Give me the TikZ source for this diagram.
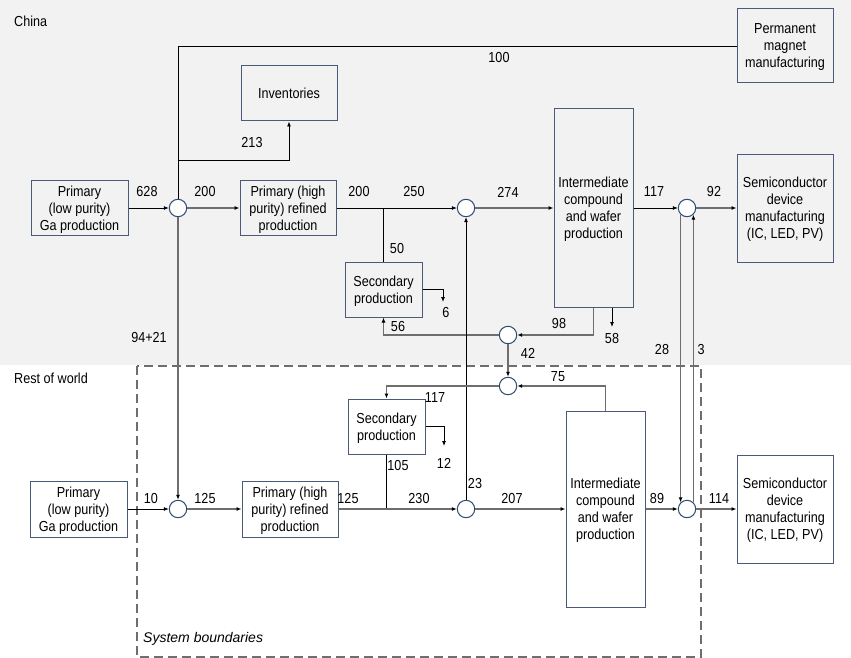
\documentclass[tikz,border=0pt]{standalone}
\usepackage{fontspec}
\setmainfont{Liberation Sans}[FakeStretch=0.87]
\newfontfamily\bndfont{Liberation Sans}
\usepackage{tikz}
\usetikzlibrary{arrows.meta}
\definecolor{bgchina}{HTML}{F2F2F2}
\definecolor{boxline}{HTML}{4A5A78}
\definecolor{jnline}{HTML}{2E4A72}
\definecolor{flowgray}{HTML}{6E6E6E}

\begin{document}
\begin{tikzpicture}[x=1pt, y=-1pt, font=\fontsize{14.5}{17}\selectfont,
  box/.style={draw=boxline, line width=1pt, align=center, inner sep=2pt, text depth=0pt},
  jn/.style={circle, draw=jnline, fill=white, line width=1pt, minimum size=17.4pt, inner sep=0pt},
  lbl/.style={inner sep=0pt},
  lnk/.style={black, line width=0.8pt},
  lng/.style={flowgray, line width=1.3pt},
  arrk/.style={lnk, -{Latex[length=5pt,width=4pt]}},
  arrg/.style={lng, -{Latex[length=5pt,width=4pt,color=black]}}]
  \fill[bgchina] (0,0) rectangle (851,365);
  \useasboundingbox (0,0) rectangle (851,658);
  \draw[flowgray, line width=1.2pt, dash pattern=on 9pt off 5pt] (137,366) rectangle (701,657);

  \node[lbl, anchor=west] (lchina) at (14,21) {China};
  \node[lbl, anchor=west] (lrow) at (14,378) {Rest of world};
  \node[lbl, anchor=west, font=\bndfont\itshape\fontsize{14}{17}\selectfont] (lbound) at (143,639) {System boundaries};

  % China
  \node[box, minimum width=97pt, minimum height=55pt] (cnlow) at (79.5,208) {Primary\\(low purity)\\Ga production};
  \node[box, minimum width=96pt, minimum height=55pt] (cnhigh) at (288,208) {Primary (high\\purity) refined\\production};
  \node[box, minimum width=96pt, minimum height=55pt] (cninv) at (289,93.5) {Inventories};
  \node[box, minimum width=96pt, minimum height=74pt] (cnmag) at (785,46) {Permanent\\magnet\\manufacturing};
  \node[box, minimum width=79pt, minimum height=198pt] (cnint) at (593.5,208) {Intermediate\\compound\\and wafer\\production};
  \node[box, minimum width=96pt, minimum height=108pt] (cnsemi) at (785,208) {Semiconductor\\device\\manufacturing\\(IC, LED, PV)};
  \node[box, minimum width=77pt, minimum height=55pt] (cnsec) at (383.5,289.5) {Secondary\\production};

  % Rest of world
  \node[box, minimum width=97pt, minimum height=56pt] (rwlow) at (78.5,509) {Primary\\(low purity)\\Ga production};
  \node[box, minimum width=96pt, minimum height=56pt] (rwhigh) at (290,509) {Primary (high\\purity) refined\\production};
  \node[box, minimum width=77pt, minimum height=55pt] (rwsec) at (386.5,426.5) {Secondary\\production};
  \node[box, minimum width=79pt, minimum height=196pt] (rwint) at (605.5,509) {Intermediate\\compound\\and wafer\\production};
  \node[box, minimum width=96pt, minimum height=108pt] (rwsemi) at (785,509) {Semiconductor\\device\\manufacturing\\(IC, LED, PV)};

  % junctions
  \node[jn] (j1) at (178,208) {};
  \node[jn] (j2) at (466,208) {};
  \node[jn] (j3) at (687,208) {};
  \node[jn] (j4) at (508,335) {};
  \node[jn] (j5) at (508,386) {};
  \node[jn] (j6) at (178,509) {};
  \node[jn] (j7) at (466,509) {};
  \node[jn] (j8) at (687,509) {};

  \coordinate (tinv) at (178,160);
  \coordinate (cnscrap) at (443,302);
  \coordinate (cnloss) at (612,327);
  \coordinate (rwscrap) at (444,446);

  % China flows
  \draw[arrk] (cnlow) -- (j1);
  \draw[arrg] (j1) -- (cnhigh);
  \draw[lnk] (j1.north) -- (j1 |- cnmag.west) -- (cnmag.west);
  \draw[arrk] (tinv) -| (cninv.south);
  \draw[arrk] (cnhigh) -- (j2);
  \draw[lnk] (cnsec.north |- j2) -- (cnsec.north);
  \draw[arrg] (j2) -- (cnint);
  \draw[arrk] (cnint) -- (j3);
  \draw[arrg] (j3) -- (cnsemi);
  \draw[arrk] (cnsec.east) -| (cnscrap);
  \draw[arrg] (cnint.south) |- (j4);
  \draw[arrk] (cnloss |- cnint.south) -- (cnloss);
  \draw[arrg] (j4) -| (cnsec.south);
  \draw[arrg] (j4) -- (j5);

  % between regions
  \draw[arrg] (j1) -- (j6);
  \draw[arrk] (j7) -- (j2);
  \draw[arrg] (j3.-134) -- (j8.134);
  \draw[arrg] (j8.46) -- (j3.-46);

  % Rest of world flows
  \draw[arrg] (rwint.north) |- (j5);
  \draw[arrg] (j5) -| (rwsec.north);
  \draw[arrk] (rwsec.east) -| (rwscrap);
  \draw[lnk] (rwsec.south) -- (rwsec.south |- j7);
  \draw[arrk] (rwlow) -- (j6);
  \draw[arrg] (j6) -- (rwhigh);
  \draw[arrg] (rwhigh) -- (j7);
  \draw[arrg] (j7) -- (rwint);
  \draw[arrg] (rwint) -- (j8);
  \draw[arrg] (j8) -- (rwsemi);

  % flow values
  \node[lbl] (v628) at (147,192) {628};
  \node[lbl] (v200a) at (205,192) {200};
  \node[lbl] (v213) at (252,143) {213};
  \node[lbl] (v100) at (499,58) {100};
  \node[lbl] (v200b) at (359,192) {200};
  \node[lbl] (v250) at (414,192) {250};
  \node[lbl] (v274) at (508,192) {274};
  \node[lbl] (v117a) at (654,192) {117};
  \node[lbl] (v92) at (714,192) {92};
  \node[lbl] (v50) at (397,249) {50};
  \node[lbl] (v6) at (446,313) {6};
  \node[lbl] (v56) at (398,327) {56};
  \node[lbl] (v98) at (559,324) {98};
  \node[lbl] (v58) at (612,339) {58};
  \node[lbl] (v42) at (528,353) {42};
  \node[lbl] (v28) at (662,350) {28};
  \node[lbl] (v3) at (701,350) {3};
  \node[lbl] (v9421) at (149,338) {94+21};
  \node[lbl] (v75) at (558,377) {75};
  \node[lbl] (v117b) at (435,398) {117};
  \node[lbl] (v12) at (444,463) {12};
  \node[lbl] (v105) at (398,466) {105};
  \node[lbl] (v23) at (475,484) {23};
  \node[lbl] (v10) at (151,499) {10};
  \node[lbl] (v125a) at (205,499) {125};
  \node[lbl] (v125b) at (348,499) {125};
  \node[lbl] (v230) at (419,499) {230};
  \node[lbl] (v207) at (512,499) {207};
  \node[lbl] (v89) at (657,499) {89};
  \node[lbl] (v114) at (719,499) {114};
\end{tikzpicture}
\end{document}
